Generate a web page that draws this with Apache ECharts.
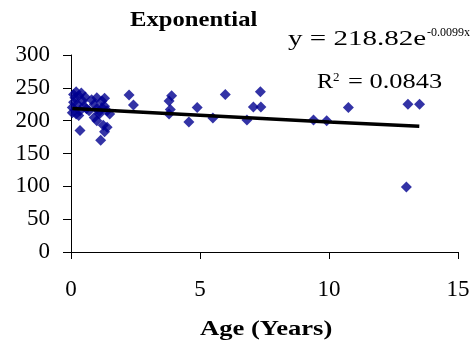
<!DOCTYPE html>
<html>
<head>
<meta charset="utf-8">
<script src="https://cdn.jsdelivr.net/npm/echarts@6/dist/echarts.min.js"></script>
<style>
html,body{margin:0;padding:0;background:#fff;}
#chart{width:473px;height:350px;}
</style>
</head>
<body>
<div id="chart"></div>
<script>
// Scatter data: age (years) and value
const ageValues = [
  0.05, 0.10, 0.15, 0.20, 0.10, 0.05, 0.30, 0.25, 0.35, 0.40, 0.45, 0.50, 0.20, 0.30, 0.55, 0.60, 0.35,
  0.70, 0.80, 0.90, 1.00, 1.10, 1.20, 1.30, 0.90, 1.00, 1.10, 1.20, 1.30, 1.40, 1.25, 1.30, 1.15, 1.40, 1.50, 1.00,
  2.25, 2.42,
  3.80, 3.90, 3.85, 3.80,
  4.57, 4.89, 5.50, 5.98, 6.82, 7.07, 7.34, 7.36,
  9.40, 9.91, 10.75, 13.06, 13.51, 13.00
];
const levelValues = [
  220, 240, 235, 244, 228, 212, 238, 225, 215, 242, 230, 222, 210, 208, 236, 218, 185,
  215, 232, 225, 235, 214, 230, 234, 205, 200, 210, 220, 222, 215, 193, 183, 170, 190, 210, 218,
  239, 224,
  230, 238, 217, 210,
  198, 220, 204, 240, 201, 221, 244, 221,
  201, 200, 220, 225, 225, 99
];
// Trend line (exponential fit) points
const trendAge = [0.05, 5, 10, 13.5];
const trendLevel = [218.7, 208.3, 198.1, 191.4];

const xTicks = [0, 5, 10, 15];
const yTicks = [0, 50, 100, 150, 200, 250, 300];

const titleText = 'Exponential';
const xAxisTitle = 'Age (Years)';
const eqMain = 'y = 218.82e';
const eqSup = '-0.0099x';
const r2Main = 'R';
const r2Sup = '2';
const r2Rest = '= 0.0843';

const serif = '"Liberation Serif", "Times New Roman", serif';
const chart = echarts.init(document.getElementById('chart'), null, {renderer: 'canvas'});

const scatterData = ageValues.map((a, i) => [a, levelValues[i]]);
const trendData = trendAge.map((a, i) => [a, trendLevel[i]]);

function txt(text, x, y, font, scaleX, align) {
  return {
    type: 'text', x: x, y: y, scaleX: scaleX, scaleY: 1, z: 10,
    style: {text: text, font: font, fill: '#000', align: align || 'left', verticalAlign: 'middle'}
  };
}

chart.setOption({
  backgroundColor: '#ffffff',
  animation: false,
  grid: {left: 71, right: 15, top: 55, bottom: 98},
  xAxis: {
    type: 'value', min: xTicks[0], max: xTicks[xTicks.length - 1], interval: 5,
    axisLine: {show: true, onZero: false, lineStyle: {color: '#000', width: 1}},
    axisTick: {show: true, inside: false, length: 7, lineStyle: {color: '#000'}},
    axisLabel: {fontFamily: serif, fontSize: 23, color: '#000', margin: 26},
    splitLine: {show: false}
  },
  yAxis: {
    type: 'value', min: yTicks[0], max: yTicks[yTicks.length - 1], interval: 50,
    axisLine: {show: true, lineStyle: {color: '#000', width: 1}},
    axisTick: {show: true, inside: false, length: 8, lineStyle: {color: '#000'}},
    axisLabel: {fontFamily: serif, fontSize: 23, color: '#000', margin: 21},
    splitLine: {show: false}
  },
  series: [
    {
      type: 'scatter', data: scatterData, symbol: 'diamond', symbolSize: 11,
      itemStyle: {color: '#000090'}, z: 2
    },
    {
      type: 'line', data: trendData, showSymbol: false, symbol: 'none', smooth: false,
      lineStyle: {color: '#000', width: 3.5}, z: 3
    }
  ],
  graphic: [
    txt(titleText, 130, 20.5, 'bold 22px ' + serif, 1.12),
    txt(xAxisTitle, 200, 329, 'bold 22px ' + serif, 1.21),
    txt(eqMain, 288, 39.5, '22px ' + serif, 1.32),
    txt(eqSup, 427, 32.5, '12px ' + serif, 1.0),
    txt(r2Main, 317, 82.5, '22px ' + serif, 1.1),
    txt(r2Sup, 333, 77.5, '13px ' + serif, 1.0),
    txt(r2Rest, 348, 82.5, '22px ' + serif, 1.2)
  ]
});
</script>
</body>
</html>
